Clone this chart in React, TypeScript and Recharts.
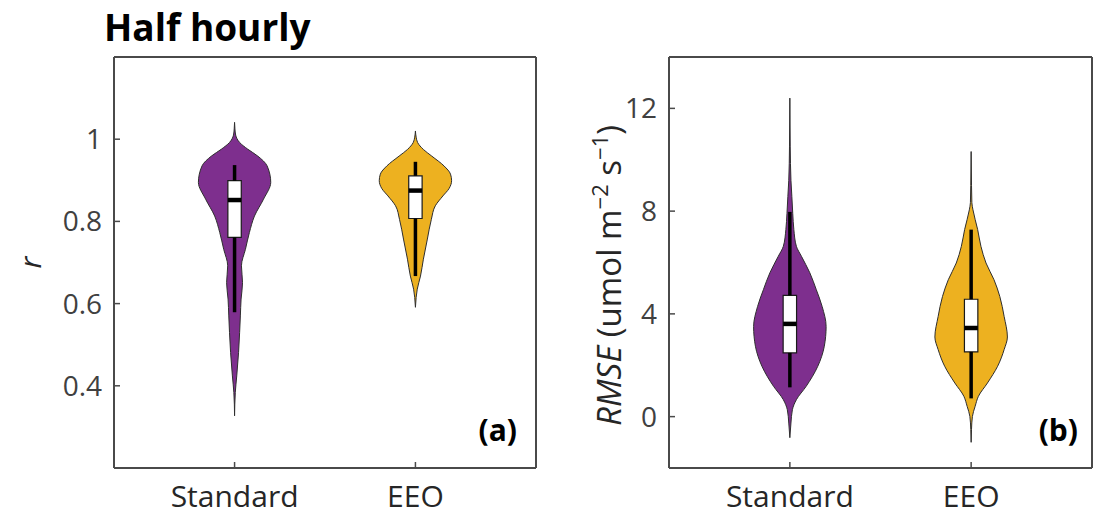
import React from 'react';
import { ComposedChart, Area, XAxis, YAxis, ReferenceArea, ReferenceLine, Label } from 'recharts';

// Groups on the x axis
const categories = ['Standard', 'EEO'];
const categoryPositions = [1, 2];

// Panel (a): correlation coefficient r
const rTicks = [0.4, 0.6, 0.8, 1];
const rDomain = [0.2, 1.2];
const rStandardLevels = [0.327, 0.384, 0.424, 0.481, 0.53, 0.57, 0.611, 0.651, 0.692, 0.732, 0.773, 0.813, 0.854, 0.895, 0.935, 0.959, 0.976, 0.992, 1.01, 1.025, 1.041];
const rStandardDensity = [0, 0.02, 0.06, 0.11, 0.14, 0.16, 0.18, 0.22, 0.19, 0.3, 0.41, 0.55, 0.8, 1.0, 0.9, 0.64, 0.36, 0.14, 0.03, 0.01, 0];
const rEeoLevels = [0.591, 0.615, 0.635, 0.667, 0.708, 0.757, 0.805, 0.838, 0.862, 0.88, 0.899, 0.915, 0.935, 0.959, 0.975, 0.992, 1.005, 1.02];
const rEeoDensity = [0, 0.02, 0.05, 0.14, 0.22, 0.33, 0.44, 0.55, 0.76, 0.93, 1.0, 0.97, 0.79, 0.45, 0.22, 0.06, 0.02, 0];
// [lower whisker, Q1, median, Q3, upper whisker]
const rStandardBox = [0.579, 0.761, 0.852, 0.899, 0.937];
const rEeoBox = [0.667, 0.807, 0.875, 0.911, 0.945];

// Panel (b): RMSE
const rmseTicks = [0, 4, 8, 12];
const rmseDomain = [-2, 14];
const rmseStandardLevels = [-0.82, -0.25, 0.27, 0.66, 1.18, 1.96, 2.74, 3.51, 4.29, 4.94, 5.6, 6.24, 6.63, 7.28, 7.9, 8.57, 9.2, 10.5, 12.4];
const rmseStandardDensity = [0, 0.03, 0.07, 0.18, 0.45, 0.77, 0.95, 1.0, 0.89, 0.73, 0.55, 0.32, 0.18, 0.11, 0.08, 0.055, 0.03, 0.01, 0];
const rmseEeoLevels = [-1.0, -0.5, 0.01, 0.4, 0.79, 1.31, 1.96, 2.61, 3.1, 3.9, 4.68, 5.33, 5.98, 6.63, 7.28, 8.05, 8.33, 9.0, 10.32];
const rmseEeoDensity = [0, 0.01, 0.035, 0.11, 0.2, 0.45, 0.73, 0.91, 1.0, 0.91, 0.79, 0.63, 0.41, 0.27, 0.18, 0.05, 0.02, 0.01, 0];
const rmseStandardBox = [1.14, 2.48, 3.61, 4.72, 7.97];
const rmseEeoBox = [0.71, 2.52, 3.45, 4.57, 7.28];

const X_DOMAIN = [1 / 3, 8 / 3];
const VIOLIN_HALF_WIDTH = 0.2;
const BOX_HALF_WIDTH = 0.037;
const HEIGHT = 519;

const FONT = '"Open Sans", "Noto Sans", sans-serif';
const PURPLE = '#7E2F8E';
const GOLD = '#EDB120';
const FRAME = '#4a4a4a';
const TICK_TEXT = '#404040';

type ViolinSpec = {
  key: string;
  center: number;
  levels: number[];
  density: number[];
  box: number[];
  color: string;
};

// One row per density sample; each row carries the [left, right] extent of a single violin.
function buildRows(specs: ViolinSpec[]) {
  const rows: Record<string, any>[] = [];
  specs.forEach((s) => {
    s.levels.forEach((level, i) => {
      const hw = s.density[i] * VIOLIN_HALF_WIDTH;
      rows.push({ level, [s.key]: [s.center - hw, s.center + hw] });
    });
  });
  rows.sort((a, b) => a.level - b.level);
  return rows;
}

type PanelProps = {
  width: number;
  marginRight: number;
  domain: number[];
  ticks: number[];
  specs: ViolinSpec[];
  axisTitle: (vb: any) => React.ReactNode;
};

function ViolinPanel({ width, marginRight, domain, ticks, specs, axisTitle }: PanelProps) {
  const rows = buildRows(specs);
  const yTickStyle = { fill: TICK_TEXT, fontSize: 28, fontFamily: FONT };
  const xTickStyle = { fill: '#262626', fontSize: 30, fontFamily: FONT };
  const frameLine = { stroke: FRAME, strokeWidth: 2 };
  const tickLine = { stroke: FRAME, strokeWidth: 1.5 };
  return (
    <ComposedChart
      layout="vertical"
      width={width}
      height={HEIGHT}
      data={rows}
      margin={{ top: 56, right: marginRight - 1, bottom: 11, left: 54 }}
    >
      <XAxis
        type="number"
        domain={X_DOMAIN}
        ticks={categoryPositions}
        tickFormatter={(v: number) => categories[Math.round(v) - 1]}
        allowDataOverflow
        height={40}
        tickSize={-6}
        tickMargin={24}
        tick={xTickStyle}
        axisLine={frameLine}
        tickLine={tickLine}
      />
      <XAxis
        xAxisId="top"
        orientation="top"
        type="number"
        domain={X_DOMAIN}
        ticks={categoryPositions}
        allowDataOverflow
        height={1}
        tick={false}
        tickSize={-6}
        axisLine={frameLine}
        tickLine={tickLine}
      />
      <YAxis
        type="number"
        dataKey="level"
        domain={domain}
        ticks={ticks}
        reversed
        allowDataOverflow
        width={60}
        tickSize={-6}
        tickMargin={18}
        tick={yTickStyle}
        axisLine={frameLine}
        tickLine={tickLine}
      >
        <Label content={(p: any) => axisTitle(p.viewBox)} />
      </YAxis>
      <YAxis
        yAxisId="right"
        orientation="right"
        type="number"
        domain={domain}
        ticks={ticks}
        reversed
        allowDataOverflow
        width={1}
        tick={false}
        tickSize={-6}
        axisLine={frameLine}
        tickLine={tickLine}
      />
      {specs.map((s) => (
        <Area
          key={s.key}
          type="monotone"
          dataKey={(row: any) => row[s.key] ?? [null, null]}
          fill={s.color}
          fillOpacity={1}
          stroke="#2e2e2e"
          strokeWidth={1}
          connectNulls
          dot={false}
          activeDot={false}
          isAnimationActive={false}
        />
      ))}
      {specs.map((s) => (
        <ReferenceLine
          key={`lw-${s.key}`}
          segment={[{ x: s.center, y: s.box[0] }, { x: s.center, y: s.box[1] }]}
          stroke="#000"
          strokeWidth={3.5}
          ifOverflow="visible"
        />
      ))}
      {specs.map((s) => (
        <ReferenceLine
          key={`uw-${s.key}`}
          segment={[{ x: s.center, y: s.box[3] }, { x: s.center, y: s.box[4] }]}
          stroke="#000"
          strokeWidth={3.5}
          ifOverflow="visible"
        />
      ))}
      {specs.map((s) => (
        <ReferenceArea
          key={`box-${s.key}`}
          x1={s.center - BOX_HALF_WIDTH}
          x2={s.center + BOX_HALF_WIDTH}
          y1={s.box[1]}
          y2={s.box[3]}
          fill="#ffffff"
          fillOpacity={1}
          stroke="#1a1a1a"
          strokeWidth={1.2}
          ifOverflow="visible"
        />
      ))}
      {specs.map((s) => (
        <ReferenceLine
          key={`med-${s.key}`}
          segment={[
            { x: s.center - BOX_HALF_WIDTH, y: s.box[2] },
            { x: s.center + BOX_HALF_WIDTH, y: s.box[2] },
          ]}
          stroke="#000"
          strokeWidth={4.5}
          ifOverflow="visible"
        />
      ))}
    </ComposedChart>
  );
}

const rSpecs: ViolinSpec[] = [
  { key: 'standard', center: categoryPositions[0], levels: rStandardLevels, density: rStandardDensity, box: rStandardBox, color: PURPLE },
  { key: 'eeo', center: categoryPositions[1], levels: rEeoLevels, density: rEeoDensity, box: rEeoBox, color: GOLD },
];
const rmseSpecs: ViolinSpec[] = [
  { key: 'standard', center: categoryPositions[0], levels: rmseStandardLevels, density: rmseStandardDensity, box: rmseStandardBox, color: PURPLE },
  { key: 'eeo', center: categoryPositions[1], levels: rmseEeoLevels, density: rmseEeoDensity, box: rmseEeoBox, color: GOLD },
];

const rTitle = (vb: any) => {
  const x = vb.x - 13;
  const y = vb.y + vb.height / 2;
  return (
    <text x={x} y={y} transform={`rotate(-90, ${x}, ${y})`} textAnchor="middle" fontFamily={FONT} fontSize={30} fontStyle="italic" fill="#262626">
      r
    </text>
  );
};

const rmseTitle = (vb: any) => {
  const x = vb.x + 12;
  const y = vb.y + vb.height / 2 + 13;
  return (
    <text x={x} y={y} transform={`rotate(-90, ${x}, ${y})`} textAnchor="middle" fontFamily={FONT} fontSize={33} fill="#262626">
      <tspan fontStyle="italic">RMSE</tspan>
      <tspan> (umol m</tspan>
      <tspan dy={-13} fontSize={22}>−2</tspan>
      <tspan dy={13}> s</tspan>
      <tspan dy={-13} fontSize={22}>−1</tspan>
      <tspan dy={13}>)</tspan>
    </text>
  );
};

export default function App() {
  return (
    <div style={{ position: 'absolute', left: 0, top: 0, width: 1101, height: HEIGHT, background: '#fff', overflow: 'hidden' }}>
      <div style={{ position: 'absolute', left: 0, top: 0 }}>
        <ViolinPanel width={560} marginRight={24} domain={rDomain} ticks={rTicks} specs={rSpecs} axisTitle={rTitle} />
      </div>
      <div style={{ position: 'absolute', left: 555, top: 0 }}>
        <ViolinPanel width={546} marginRight={9} domain={rmseDomain} ticks={rmseTicks} specs={rmseSpecs} axisTitle={rmseTitle} />
      </div>
      <svg width={1101} height={HEIGHT} style={{ position: 'absolute', left: 0, top: 0, pointerEvents: 'none' }}>
        <text x={104} y={41} fontFamily={FONT} fontSize={37} fontWeight={700} fill="#000">
          Half hourly
        </text>
        <text x={517} y={441} textAnchor="end" fontFamily={FONT} fontSize={30} fontWeight={700} fill="#000">
          (a)
        </text>
        <text x={1078} y={441} textAnchor="end" fontFamily={FONT} fontSize={30} fontWeight={700} fill="#000">
          (b)
        </text>
      </svg>
    </div>
  );
}
